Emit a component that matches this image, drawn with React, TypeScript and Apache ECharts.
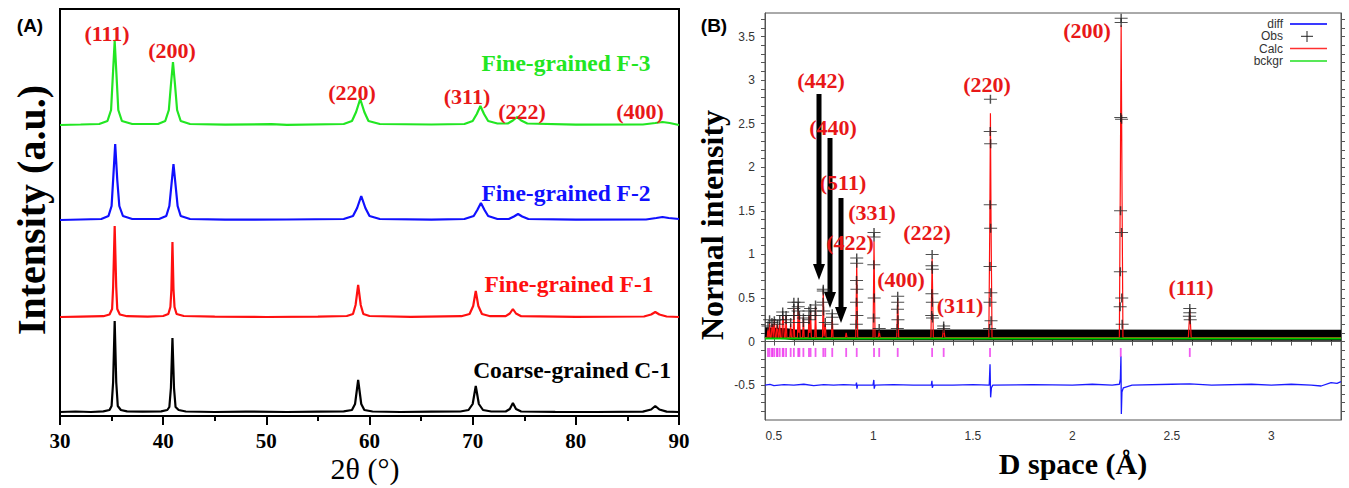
import React, { useEffect, useRef } from 'react';
import * as echarts from 'echarts';

const SERIF = '"Liberation Serif", "Times New Roman", serif';
const SANS = '"Liberation Sans", Arial, sans-serif';

// ---------- Panel A : XRD patterns ----------
const xrdNames = ['Coarse-grained C-1', 'Fine-grained F-1', 'Fine-grained F-2', 'Fine-grained F-3'];
const xrdColors = ['#000000', '#ff1010', '#1010ff', '#22e622'];
const xrdOffsets = [4, 99, 196, 291];

const xrdC1 = [
  [30, 0], [31.5, 0.5], [33, 0], [34.2, 0.6], [34.8, 2], [35.0, 6], [35.15, 30], [35.3, 91], [35.45, 30], [35.6, 6], [35.9, 2], [36.5, 0.6],
  [38, 0.3], [39.8, 0.6], [40.4, 2], [40.6, 5], [40.75, 24], [40.9, 74], [41.05, 24], [41.2, 5], [41.5, 2], [42.2, 0.5],
  [45, 0], [48, 0.4], [52, 0], [55, 0.3], [57.5, 0.6], [58.3, 2], [58.6, 8], [58.9, 32], [59.2, 8], [59.5, 2], [60.3, 0.5],
  [63, 0], [66, 0.3], [68.8, 0.5], [69.6, 2], [70.0, 8], [70.3, 26], [70.6, 8], [71.0, 2], [71.8, 0.5],
  [73.2, 0.5], [73.6, 3], [73.9, 9], [74.2, 3], [74.7, 0.5], [78, 0.2], [82, 0], [86.5, 0.4], [87.3, 2.5], [87.7, 6], [88.1, 2.5], [88.8, 0.4], [90, 0],
];
const xrdF1 = [
  [30, 0], [32, 0.4], [34.2, 0.8], [34.8, 2.5], [35.05, 8], [35.15, 30], [35.3, 91], [35.45, 30], [35.55, 8], [35.8, 2.5], [36.5, 0.8],
  [38.5, 0.3], [40.0, 1], [40.5, 3], [40.7, 10], [40.8, 28], [40.9, 75], [41.0, 28], [41.1, 10], [41.3, 3], [42, 1],
  [45, 0.3], [50, 0], [55, 0.4], [57.8, 1], [58.4, 3], [58.65, 12], [58.9, 32], [59.15, 12], [59.4, 3], [60.0, 1],
  [64, 0.2], [68.9, 0.8], [69.7, 3], [70.05, 11], [70.3, 26], [70.55, 11], [70.9, 3], [71.7, 0.8],
  [73.2, 0.8], [73.6, 3.5], [73.9, 8], [74.2, 3.5], [74.7, 0.8], [80, 0.2], [86.6, 0.5], [87.3, 2.5], [87.7, 5], [88.1, 2.5], [88.8, 0.5], [90, 0],
];
const xrdF2 = [
  [30, 0], [32, 0.5], [34.0, 1], [34.7, 4], [35.0, 14], [35.15, 40], [35.35, 76], [35.55, 40], [35.75, 14], [36.1, 4], [37, 1],
  [39.6, 1], [40.3, 4], [40.6, 14], [40.8, 35], [41.0, 56], [41.2, 35], [41.4, 14], [41.7, 4], [42.6, 1],
  [46, 0.3], [52, 0.5], [57.5, 1], [58.4, 4], [58.8, 12], [59.2, 24], [59.6, 12], [60.0, 4], [61, 1],
  [66, 0.3], [69.2, 1], [70.1, 4], [70.45, 10], [70.8, 17], [71.15, 10], [71.5, 4], [72.4, 1],
  [73.5, 1], [74.0, 3.5], [74.4, 6], [74.8, 3.5], [75.4, 1], [80, 0.3], [86.8, 0.5], [87.8, 2], [88.4, 3], [89, 2], [90, 1],
];
const xrdF3 = [
  [30, 0], [32, 0.5], [33.8, 1], [34.6, 4], [34.95, 15], [35.1, 45], [35.3, 84], [35.5, 45], [35.65, 15], [36.0, 4], [37, 1],
  [39.5, 1], [40.2, 4], [40.55, 15], [40.75, 40], [40.95, 63], [41.15, 40], [41.35, 15], [41.7, 4], [42.6, 1],
  [46, 0.3], [50.5, 0.8], [52, 0.2], [57.5, 1], [58.3, 4], [58.7, 13], [59.1, 26], [59.5, 13], [59.9, 4], [61, 1],
  [66, 0.5], [69.2, 1], [70.0, 4], [70.4, 11], [70.75, 19], [71.1, 11], [71.5, 4], [72.4, 1.5],
  [73.4, 1.5], [73.9, 4.5], [74.3, 8], [74.7, 4.5], [75.3, 1.5], [80, 0.3], [86.5, 0.5], [87.7, 2], [88.4, 3], [89.1, 2], [90, 0],
];
const xrdPatterns = [xrdC1, xrdF1, xrdF2, xrdF3];
const hklA = ['(111)', '(200)', '(220)', '(311)', '(222)', '(400)'];

// ---------- Panel B : Rietveld refinement ----------
const dTicksB = [0.5, 1, 1.5, 2, 2.5, 3];
const dTicksAll = [0.5, 0.6, 0.7, 0.8, 0.9, 1, 1.1, 1.2, 1.3, 1.4, 1.5, 1.6, 1.7, 1.8, 1.9, 2, 2.1, 2.2, 2.3, 2.4, 2.5, 2.6, 2.7, 2.8, 2.9, 3, 3.1, 3.2, 3.3];
const yTicksB = [-0.5, 0, 0.5, 1, 1.5, 2, 2.5, 3, 3.5];
const yTicksAll = [-0.8, -0.7, -0.6, -0.5, -0.4, -0.3, -0.2, -0.1, 0, 0.1, 0.2, 0.3, 0.4, 0.5, 0.6, 0.7, 0.8, 0.9, 1, 1.1, 1.2, 1.3, 1.4, 1.5, 1.6, 1.7, 1.8, 1.9, 2, 2.1, 2.2, 2.3, 2.4, 2.5, 2.6, 2.7, 2.8, 2.9, 3, 3.1, 3.2, 3.3, 3.4, 3.5, 3.6, 3.7];

const reflD = [2.59, 2.243, 1.586, 1.353, 1.295, 1.122, 1.029, 1.003, 0.916, 0.863, 0.793, 0.758, 0.748, 0.709, 0.684, 0.676, 0.648, 0.628, 0.622, 0.6, 0.584, 0.561, 0.548, 0.544, 0.529, 0.518, 0.515, 0.502, 0.493, 0.49, 0.478, 0.47];

const calcB = [
  [0.455, 0.045],
  [0.466, 0.045], [0.47, 0.15], [0.474, 0.045],
  [0.475, 0.045], [0.478, 0.22], [0.481, 0.045],
  [0.486, 0.045], [0.49, 0.18], [0.493, 0.2], [0.496, 0.045],
  [0.498, 0.045], [0.502, 0.25], [0.506, 0.045],
  [0.511, 0.045], [0.515, 0.2], [0.518, 0.18], [0.521, 0.045],
  [0.525, 0.045], [0.529, 0.22], [0.533, 0.045],
  [0.54, 0.045], [0.544, 0.3], [0.548, 0.25], [0.552, 0.045],
  [0.557, 0.045], [0.561, 0.3], [0.565, 0.045],
  [0.58, 0.045], [0.584, 0.2], [0.588, 0.045],
  [0.596, 0.045], [0.6, 0.38], [0.604, 0.045],
  [0.618, 0.045], [0.622, 0.42], [0.625, 0.1], [0.628, 0.32], [0.632, 0.045],
  [0.644, 0.045], [0.648, 0.28], [0.652, 0.045],
  [0.672, 0.045], [0.676, 0.3], [0.68, 0.1], [0.684, 0.35], [0.688, 0.045],
  [0.705, 0.045], [0.709, 0.4], [0.713, 0.045],
  [0.744, 0.045], [0.748, 0.6], [0.752, 0.06], [0.758, 0.2], [0.762, 0.045],
  [0.789, 0.045], [0.793, 0.3], [0.797, 0.045],
  [0.859, 0.045], [0.863, 0.1], [0.867, 0.045],
  [0.911, 0.045], [0.916, 0.9], [0.921, 0.045],
  [0.998, 0.045], [1.003, 1.15], [1.008, 0.045],
  [1.024, 0.045], [1.029, 0.12], [1.034, 0.045],
  [1.117, 0.045], [1.122, 0.48], [1.127, 0.045],
  [1.289, 0.045], [1.295, 0.95], [1.301, 0.045],
  [1.347, 0.045], [1.353, 0.16], [1.359, 0.045],
  [1.58, 0.045], [1.585, 1.4], [1.588, 2.62], [1.591, 1.4], [1.596, 0.045],
  [2.236, 0.045], [2.241, 1.9], [2.245, 3.63], [2.249, 1.9], [2.254, 0.045],
  [2.583, 0.045], [2.59, 0.36], [2.597, 0.045],
  [3.35, 0.045],
];

const obsB = [
  [2.245, 3.71], [2.245, 3.66], [2.243, 2.57], [2.247, 2.55], [2.242, 1.5], [2.247, 1.25], [2.241, 0.8], [2.248, 0.5], [2.24, 0.4], [2.25, 0.2],
  [1.588, 2.78], [1.587, 2.41], [1.589, 2.27], [1.587, 1.57], [1.589, 1.3], [1.586, 0.86], [1.59, 0.56], [1.586, 0.45], [1.591, 0.24], [1.584, 0.15],
  [2.59, 0.38], [2.59, 0.33], [2.588, 0.29], [2.592, 0.25],
  [1.295, 1.0], [1.294, 0.87], [1.296, 0.83], [1.294, 0.55], [1.296, 0.45], [1.293, 0.3], [1.297, 0.27],
  [1.353, 0.18], [1.353, 0.15],
  [1.122, 0.52], [1.122, 0.45], [1.121, 0.37], [1.123, 0.25], [1.12, 0.15],
  [1.003, 1.25], [1.003, 1.2], [1.002, 0.88], [1.004, 0.5], [1.001, 0.27], [1.029, 0.15],
  [0.916, 0.96], [0.916, 0.9], [0.915, 0.7], [0.917, 0.6], [0.915, 0.45], [0.917, 0.3], [0.914, 0.2],
  [0.793, 0.32], [0.793, 0.28], [0.792, 0.2],
  [0.758, 0.22],
  [0.748, 0.6], [0.748, 0.58], [0.747, 0.45], [0.749, 0.35],
  [0.709, 0.42], [0.709, 0.35], [0.708, 0.3],
  [0.684, 0.38], [0.684, 0.3], [0.676, 0.35], [0.676, 0.25],
  [0.648, 0.27], [0.648, 0.22],
  [0.628, 0.3], [0.622, 0.45], [0.622, 0.4], [0.621, 0.35],
  [0.6, 0.45], [0.6, 0.38], [0.6, 0.3],
  [0.584, 0.22], [0.561, 0.3], [0.561, 0.25], [0.544, 0.34], [0.544, 0.3], [0.529, 0.25], [0.518, 0.2], [0.502, 0.24], [0.49, 0.22], [0.478, 0.25], [0.47, 0.18],
];
const obsBandB = [[0.455, 0.1], [0.56, 0.09], [0.6, 0.078], [3.35, 0.072]];
const bckgrB = [[0.455, 0.035], [3.35, 0.035]];
const tickRowB = -0.125;

const diffB = [
  [0.455, -0.5], [0.48, -0.49], [0.5, -0.505], [0.55, -0.495], [0.6, -0.5], [0.65, -0.49], [0.7, -0.505], [0.75, -0.495], [0.8, -0.5], [0.85, -0.495],
  [0.912, -0.5], [0.915, -0.47], [0.917, -0.54], [0.92, -0.5],
  [0.998, -0.5], [1.002, -0.44], [1.004, -0.54], [1.008, -0.5],
  [1.1, -0.495], [1.2, -0.5],
  [1.291, -0.5], [1.294, -0.45], [1.296, -0.53], [1.3, -0.5],
  [1.4, -0.5], [1.5, -0.495],
  [1.582, -0.5], [1.586, -0.26], [1.589, -0.64], [1.593, -0.53], [1.6, -0.5],
  [1.8, -0.495], [2.0, -0.5], [2.1, -0.49], [2.2, -0.5],
  [2.236, -0.49], [2.241, -0.43], [2.244, -0.17], [2.246, -0.83], [2.249, -0.58], [2.256, -0.53], [2.3, -0.5],
  [2.5, -0.49], [2.59, -0.485], [2.7, -0.5], [2.9, -0.49], [3.0, -0.5], [3.1, -0.49], [3.2, -0.5], [3.25, -0.51], [3.3, -0.47], [3.33, -0.48], [3.35, -0.46],
];

const hklLabelsB = ['(200)', '(220)', '(442)', '(440)', '(511)', '(331)', '(422)', '(222)', '(400)', '(311)', '(111)'];
const legendB = ['diff', 'Obs', 'Calc', 'bckgr'];

function txt(x: number, y: number, text: string, font: string, fill: string, extra: any = {}) {
  return {
    type: 'text', x, y, z: 100, ...extra,
    style: { text, font, fill, textAlign: 'center', textVerticalAlign: 'middle' },
  };
}

function arrow(x: number, y1: number, y2: number) {
  return {
    type: 'group', z: 100,
    children: [
      { type: 'line', shape: { x1: x, y1, x2: x, y2: y2 - 14 }, style: { stroke: '#000', lineWidth: 5 } },
      { type: 'polygon', shape: { points: [[x - 6, y2 - 16], [x + 6, y2 - 16], [x, y2]] }, style: { fill: '#000' } },
    ],
  };
}

export default function App() {
  const ref = useRef<HTMLDivElement>(null);
  useEffect(() => {
    if (!ref.current) return;
    const chart = echarts.init(ref.current, undefined, { renderer: 'svg' });

    const hklFontA = `bold 22px ${SERIF}`;
    const redA = '#e81818';
    const hklPosA = [[107, 33], [172, 50], [352, 92], [467, 96], [522, 111], [640, 111]];
    const namePosA = [[572, 370], [569, 284], [566, 193], [566, 63]];
    const hklPosB = [[1087, 30], [987, 84], [821, 80], [833, 127], [843, 182], [872, 212], [850, 242], [927, 232], [901, 279], [960, 305], [1191, 287]];

    const graphic: any[] = [
      txt(30, 25, '(A)', `bold 19px ${SANS}`, '#000'),
      txt(714, 25, '(B)', `bold 19px ${SANS}`, '#000'),
      txt(31, 210, 'Intensity (a.u.)', `bold 40px ${SERIF}`, '#000', { rotation: Math.PI / 2 }),
      txt(712, 225, 'Normal intensity', `bold 32px ${SERIF}`, '#000', { rotation: Math.PI / 2 }),
      txt(365, 468, '2θ (°)', `30px ${SERIF}`, '#000'),
      txt(1073, 463, 'D space (Å)', `bold 30px ${SERIF}`, '#000'),
      ...hklA.map((t, i) => txt(hklPosA[i][0], hklPosA[i][1], t, hklFontA, redA)),
      ...xrdNames.map((t, i) => txt(namePosA[i][0], namePosA[i][1], t, `bold 23.5px ${SERIF}`, xrdColors[i])),
      ...hklLabelsB.map((t, i) => txt(hklPosB[i][0], hklPosB[i][1], t, `bold 22px ${SERIF}`, redA)),
      arrow(819, 94, 280),
      arrow(830, 138, 308),
      arrow(841, 198, 323),
      ...legendB.map((t, i) => ({
        type: 'text', x: 1283, y: 24 + i * 12.3, z: 100,
        style: { text: t, font: `12px ${SANS}`, fill: '#333', textAlign: 'right', textVerticalAlign: 'middle' },
      })),
      { type: 'line', z: 100, shape: { x1: 1290, y1: 24, x2: 1327, y2: 24 }, style: { stroke: '#3a3aff', lineWidth: 2 } },
      { type: 'line', z: 100, shape: { x1: 1301, y1: 36.3, x2: 1313, y2: 36.3 }, style: { stroke: '#222', lineWidth: 1 } },
      { type: 'line', z: 100, shape: { x1: 1307, y1: 31, x2: 1307, y2: 42 }, style: { stroke: '#222', lineWidth: 1 } },
      { type: 'line', z: 100, shape: { x1: 1290, y1: 48.6, x2: 1327, y2: 48.6 }, style: { stroke: '#ff3030', lineWidth: 1.5 } },
      { type: 'line', z: 100, shape: { x1: 1290, y1: 60.9, x2: 1327, y2: 60.9 }, style: { stroke: '#20e020', lineWidth: 1.5 } },
    ];

    const axisB = '#555';
    const option: any = {
      animation: false,
      backgroundColor: '#fff',
      grid: [
        { left: 60, top: 9, width: 619, height: 407, show: true, borderColor: '#000', borderWidth: 2, backgroundColor: 'transparent' },
        { left: 765, top: 13, width: 576, height: 407, show: true, borderColor: axisB, borderWidth: 1, backgroundColor: 'transparent' },
      ],
      xAxis: [
        {
          gridIndex: 0, type: 'value', min: 30, max: 90, interval: 10,
          axisLine: { show: true, lineStyle: { color: '#000', width: 2 } },
          axisTick: { show: true, length: 9, lineStyle: { color: '#000', width: 2 } },
          minorTick: { show: true, splitNumber: 2, length: 5, lineStyle: { color: '#000', width: 2 } },
          axisLabel: { color: '#000', fontFamily: SERIF, fontWeight: 'bold', fontSize: 21, margin: 14 },
          splitLine: { show: false },
        },
        {
          gridIndex: 1, type: 'value', min: 0.455, max: 3.35, position: 'bottom',
          axisLine: { show: true, lineStyle: { color: axisB, width: 1 } },
          axisTick: { show: true, customValues: dTicksAll, length: 4, lineStyle: { color: axisB } },
          axisLabel: { customValues: dTicksB, color: '#333', fontFamily: SANS, fontSize: 12, margin: 10 },
          splitLine: { show: false },
        },
        {
          gridIndex: 1, type: 'value', min: 0.455, max: 3.35, position: 'top',
          axisLine: { show: true, lineStyle: { color: axisB, width: 1 } },
          axisTick: { show: true, customValues: dTicksAll, length: 4, lineStyle: { color: axisB } },
          axisLabel: { show: false },
          splitLine: { show: false },
        },
      ],
      yAxis: [
        { gridIndex: 0, type: 'value', min: 0, max: 407, show: false, splitLine: { show: false } },
        {
          gridIndex: 1, type: 'value', min: -0.9, max: 3.77, position: 'left',
          axisLine: { show: true, lineStyle: { color: axisB, width: 1 } },
          axisTick: { show: true, customValues: yTicksAll, length: 4, lineStyle: { color: axisB } },
          axisLabel: { customValues: yTicksB, color: '#333', fontFamily: SANS, fontSize: 12, margin: 10 },
          splitLine: { show: false },
        },
        {
          gridIndex: 1, type: 'value', min: -0.9, max: 3.77, position: 'right',
          axisLine: { show: true, lineStyle: { color: axisB, width: 1 } },
          axisTick: { show: true, customValues: yTicksAll, length: 4, lineStyle: { color: axisB } },
          axisLabel: { show: false },
          splitLine: { show: false },
        },
      ],
      series: [
        ...xrdPatterns.map((pts, i) => ({
          name: xrdNames[i], type: 'line', xAxisIndex: 0, yAxisIndex: 0,
          data: pts.map(([x, y]) => [x, y + xrdOffsets[i]]),
          showSymbol: false, lineStyle: { color: xrdColors[i], width: 2.2 }, z: 3,
        })),
        {
          name: 'ObsBand', type: 'line', xAxisIndex: 1, yAxisIndex: 1, data: obsBandB,
          showSymbol: false, lineStyle: { color: '#000', width: 11 }, z: 2,
        },
        {
          name: 'Calc', type: 'line', xAxisIndex: 1, yAxisIndex: 1, data: calcB,
          showSymbol: false, lineStyle: { color: '#ff1010', width: 1.2 }, z: 3,
        },
        {
          name: 'Obs', type: 'scatter', xAxisIndex: 1, yAxisIndex: 1, data: obsB,
          symbol: 'path://M5,0L5,10M0,5L10,5', symbolSize: [13, 9],
          itemStyle: { color: 'none', borderColor: '#222', borderWidth: 1.2 }, z: 4,
        },
        {
          name: 'bckgr', type: 'line', xAxisIndex: 1, yAxisIndex: 1, data: bckgrB,
          showSymbol: false, lineStyle: { color: '#00cc00', width: 2 }, z: 6,
        },
        {
          name: 'diff', type: 'line', xAxisIndex: 1, yAxisIndex: 1, data: diffB,
          showSymbol: false, lineStyle: { color: '#1a1aff', width: 1.3 }, z: 3,
        },
        {
          name: 'hkl', type: 'scatter', xAxisIndex: 1, yAxisIndex: 1,
          data: reflD.map((d) => [d, tickRowB]),
          symbol: 'rect', symbolSize: [1.8, 9], itemStyle: { color: '#ee33ee' }, z: 3,
        },
      ],
      graphic,
    };
    chart.setOption(option);
    return () => chart.dispose();
  }, []);

  return <div ref={ref} style={{ position: 'absolute', left: 0, top: 0, width: 1349, height: 488 }} />;
}
